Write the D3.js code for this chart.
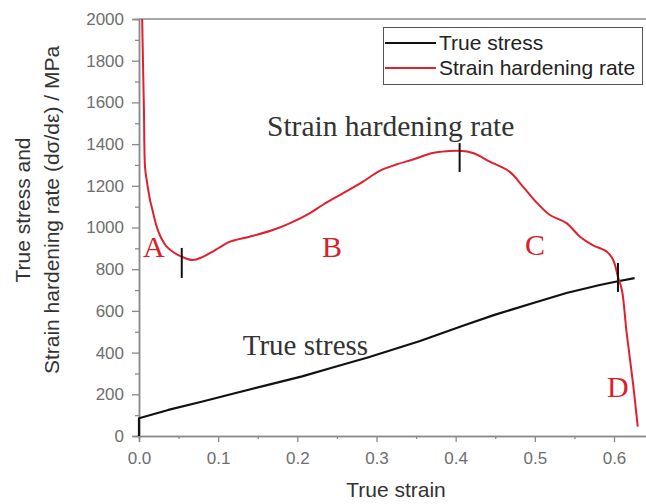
<!DOCTYPE html>
<html><head><meta charset="utf-8">
<script src="https://cdn.jsdelivr.net/npm/d3@7"></script>
<style>body{margin:0;background:#fff}svg{display:block}</style>
</head><body><svg id="c" width="646" height="504"></svg>
<script>
// Strain hardening rate (red)
const rateStrain = [0.004,0.005,0.0063,0.0076,0.0097,0.0139,0.016,0.0223,0.028,0.035,0.044,0.054,0.068,0.08,0.09,0.102,0.115,0.14,0.169,0.191,0.216,0.232,0.258,0.283,0.304,0.325,0.346,0.371,0.39,0.405,0.422,0.443,0.468,0.485,0.503,0.519,0.54,0.557,0.573,0.591,0.599,0.605,0.61,0.616,0.624,0.63];
const rateValue  = [2000,1800,1550,1290,1228,1132,1100,1004,950,908,880,860,844,858,878,905,932,956,988,1021,1069,1108,1165,1220,1272,1302,1326,1357,1366,1368,1357,1316,1268,1196,1117,1060,1021,956,916,884,844,764,700,494,254,45];
// True stress (black)
const stressStrain = [0,0,0.037,0.079,0.121,0.163,0.206,0.248,0.29,0.323,0.355,0.41,0.45,0.498,0.54,0.582,0.605,0.626];
const stressValue  = [0,85,125,164,205,245,286,332,378,417,456,530,582,638,686,724,742,757];
// Vertical section markers on the rate curve
const markStrain = [0.054,0.405,0.605];
const markTop    = [902,1405,830];
const markBottom = [758,1266,691];
// Annotations
const annText   = ["Strain hardening rate","True stress","A","B","C","D"];
const annStrain = [0.1617,0.131,0.005,0.231,0.4875,0.591];
const annValue  = [1439,388,858,858,868,187];
const annColor  = ["#333","#333","#d9202a","#d9202a","#d9202a","#d9202a"];
const annSize   = [29.5,29,30,30,30,30];
// Axis ticks
const xMajor = [0,0.1,0.2,0.3,0.4,0.5,0.6];
const xMinor = [0.05,0.15,0.25,0.35,0.45,0.55,0.65];
const yMajor = [0,200,400,600,800,1000,1200,1400,1600,1800,2000];
const yMinor = [100,300,500,700,900,1100,1300,1500,1700,1900];
const legendLabels = ["True stress","Strain hardening rate"];
const legendColors = ["#111","#e0202e"];

const svg = d3.select("#c");
const x = d3.scaleLinear().domain([0,0.66]).range([139,661.5]);
const y = d3.scaleLinear().domain([0,2000]).range([436,19]);
const axisCol = "#8a8a8a";

// frame top
svg.append("line").attr("x1",x(0)).attr("x2",x(0.66)).attr("y1",y(2000)).attr("y2",y(2000))
  .attr("stroke",axisCol).attr("stroke-width",1.5);

function styleAxis(g){
  g.select(".domain").attr("stroke",axisCol).attr("stroke-width",1.5);
  g.selectAll(".tick line").attr("stroke",axisCol).attr("stroke-width",1.3);
  g.selectAll(".tick text").attr("fill","#6e6e6e").style("font-family","Liberation Sans, Arial, sans-serif").style("font-size","17px");
}
const gx = svg.append("g").attr("transform",`translate(0,${y(0)})`)
  .call(d3.axisBottom(x).tickValues(xMajor).tickSize(6).tickPadding(10).tickFormat(d3.format(".1f")));
styleAxis(gx);
const gxm = svg.append("g").attr("transform",`translate(0,${y(0)})`)
  .call(d3.axisBottom(x).tickValues(xMinor).tickSize(3).tickFormat(""));
styleAxis(gxm);
const gy = svg.append("g").attr("transform",`translate(${x(0)},0)`)
  .call(d3.axisLeft(y).tickValues(yMajor).tickSize(7).tickPadding(8).tickFormat(d3.format("d")));
styleAxis(gy);
const gym = svg.append("g").attr("transform",`translate(${x(0)},0)`)
  .call(d3.axisLeft(y).tickValues(yMinor).tickSize(4).tickFormat(""));
styleAxis(gym);

// lines
const rateData = rateStrain.map((s,i)=>[s,rateValue[i]]);
const stressData = stressStrain.map((s,i)=>[s,stressValue[i]]);
const lineLin = d3.line().x(d=>x(d[0])).y(d=>y(d[1]));
const lineSm = d3.line().x(d=>x(d[0])).y(d=>y(d[1])).curve(d3.curveCatmullRom.alpha(0.5));
svg.append("path").datum(stressData).attr("d",lineLin).attr("fill","none").attr("stroke","#111").attr("stroke-width",2.2).attr("stroke-linejoin","round");
svg.append("path").datum(rateData).attr("d",lineSm).attr("fill","none").attr("stroke","#e0202e").attr("stroke-width",2);

// markers
svg.selectAll(".mk").data(markStrain).enter().append("line")
  .attr("x1",d=>x(d)).attr("x2",d=>x(d))
  .attr("y1",(d,i)=>y(markTop[i])).attr("y2",(d,i)=>y(markBottom[i]))
  .attr("stroke","#111").attr("stroke-width",2);

// annotations
svg.selectAll(".ann").data(annText).enter().append("text")
  .attr("x",(d,i)=>x(annStrain[i])).attr("y",(d,i)=>y(annValue[i]))
  .attr("fill",(d,i)=>annColor[i])
  .style("font-family","Liberation Serif, Times New Roman, serif")
  .style("font-size",(d,i)=>annSize[i]+"px")
  .text(d=>d);

// axis titles
svg.append("text").attr("x",396).attr("y",497).attr("text-anchor","middle")
  .attr("fill","#333").style("font-family","Liberation Sans, Arial, sans-serif").style("font-size","21px").text("True strain");
const yt = svg.append("g").attr("transform","translate(0,210) rotate(-90)");
yt.append("text").attr("x",0).attr("y",30).attr("text-anchor","middle").attr("fill","#333")
  .style("font-family","Liberation Sans, Arial, sans-serif").style("font-size","21px").text("True stress and");
yt.append("text").attr("x",0).attr("y",59).attr("text-anchor","middle").attr("fill","#333")
  .style("font-family","Liberation Sans, Arial, sans-serif").style("font-size","21px").text("Strain hardening rate (dσ/dε) / MPa");

// legend
const lg = svg.append("g");
lg.append("rect").attr("x",383.5).attr("y",27.5).attr("width",259).attr("height",57)
  .attr("fill","#fff").attr("stroke","#555").attr("stroke-width",1);
legendLabels.forEach((t,i)=>{
  const yy = 43 + i*25;
  lg.append("line").attr("x1",385).attr("x2",436).attr("y1",yy).attr("y2",yy).attr("stroke",legendColors[i]).attr("stroke-width",2);
  lg.append("text").attr("x",439).attr("y",yy+7).attr("fill","#222")
    .style("font-family","Liberation Sans, Arial, sans-serif").style("font-size","21px").text(t);
});
</script></body></html>
